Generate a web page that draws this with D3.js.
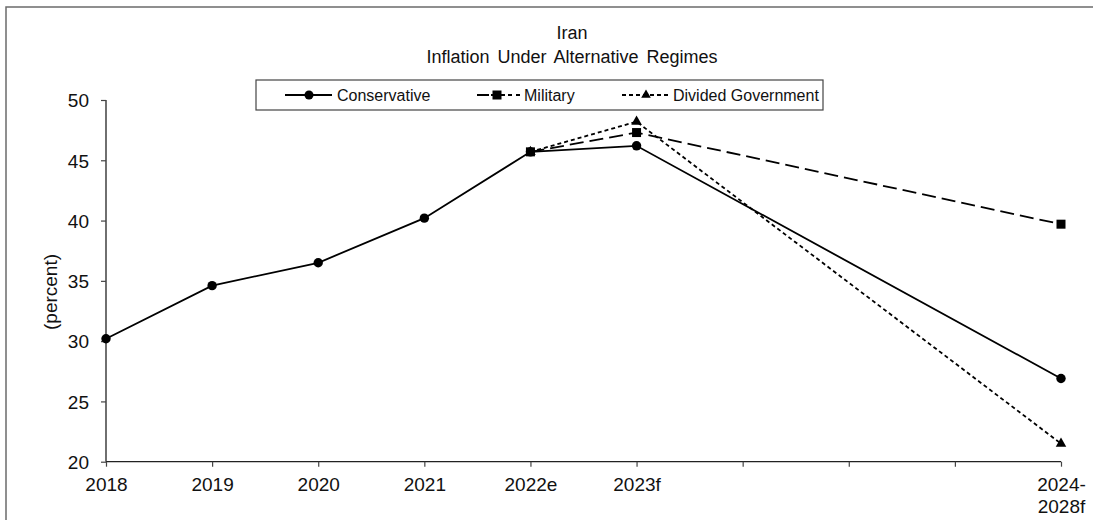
<!DOCTYPE html>
<html>
<head>
<meta charset="utf-8">
<script src="https://cdn.jsdelivr.net/npm/d3@7"></script>
<style>
  html, body { margin: 0; padding: 0; background: #fff; }
  svg { display: block; font-family: "Liberation Sans", Arial, sans-serif; }
</style>
</head>
<body>
<svg id="chart" width="1093" height="520"></svg>
<script>
// ---- data ----
const categories = ["2018", "2019", "2020", "2021", "2022e", "2023f", "c7", "c8", "c9", "2024-2028f"];
const tickLabels = ["2018", "2019", "2020", "2021", "2022e", "2023f", "", "", "", "2024-\n2028f"];
const conservativeCats = ["2018", "2019", "2020", "2021", "2022e", "2023f", "2024-2028f"];
const conservativeVals = [30.2, 34.6, 36.5, 40.2, 45.7, 46.2, 26.9];
const militaryCats = ["2022e", "2023f", "2024-2028f"];
const militaryVals = [45.7, 47.3, 39.7];
const dividedCats = ["2022e", "2023f", "2024-2028f"];
const dividedVals = [45.7, 48.2, 21.5];
const yTicks = [20, 25, 30, 35, 40, 45, 50];
const titleLines = ["Iran", "Inflation Under Alternative Regimes"];
const yLabel = "(percent)";
const seriesNames = ["Conservative", "Military", "Divided Government"];

// ---- layout ----
const svg = d3.select("#chart");
const x = d3.scalePoint().domain(categories).range([106, 1061]);
const y = d3.scaleLinear().domain([20, 50]).range([461.7, 100]);

// outer border
svg.append("rect").attr("x", 6).attr("y", 7).attr("width", 1200).attr("height", 600)
  .attr("fill", "none").attr("stroke", "#6b6b6b").attr("stroke-width", 1.5);

// title
svg.append("text").attr("x", 572).attr("y", 39).attr("text-anchor", "middle")
  .attr("font-size", 18).attr("fill", "#111").text(titleLines[0]);
svg.append("text").attr("x", 572).attr("y", 63).attr("text-anchor", "middle")
  .attr("font-size", 18).attr("word-spacing", 3).attr("fill", "#111").text(titleLines[1]);

// y axis
const yAxis = svg.append("g").attr("transform", "translate(106,0)")
  .call(d3.axisLeft(y).tickValues(yTicks).tickSize(5).tickPadding(12).tickFormat(d3.format("d")));
yAxis.select(".domain").attr("stroke", "#222").attr("stroke-width", 1.3).attr("d", "M0,100V461.7");
yAxis.selectAll(".tick line").attr("stroke", "#444").attr("stroke-width", 1.2);
yAxis.selectAll(".tick text").attr("font-size", 19).attr("fill", "#111")
  .attr("font-family", "Liberation Sans, Arial, sans-serif").attr("dy", "0.36em");

// x axis
const xAxis = svg.append("g").attr("transform", "translate(0,461.7)")
  .call(d3.axisBottom(x).tickSize(5).tickFormat(() => ""));
xAxis.select(".domain").attr("stroke", "#222").attr("stroke-width", 1.3).attr("d", "M106,0H1061");
xAxis.selectAll(".tick line").attr("stroke", "#444").attr("stroke-width", 1.2);
xAxis.selectAll(".tick").each(function(d, i) {
  const lines = tickLabels[i].split("\n");
  const t = d3.select(this).append("text").attr("text-anchor", "middle")
    .attr("font-size", 19).attr("fill", "#111")
    .attr("font-family", "Liberation Sans, Arial, sans-serif");
  lines.forEach((ln, k) => {
    t.append("tspan").attr("x", 0).attr("y", 29.5 + k * 22).text(ln);
  });
});

// y label
svg.append("text").attr("transform", "translate(57,292) rotate(-90)")
  .attr("text-anchor", "middle").attr("font-size", 19).attr("fill", "#111").text(yLabel);

// series
const line = d3.line().x(d => x(d.c)).y(d => y(d.v));
function pts(cats, vals) { return cats.map((c, i) => ({ c, v: vals[i] })); }
const cons = pts(conservativeCats, conservativeVals);
const mil = pts(militaryCats, militaryVals);
const div = pts(dividedCats, dividedVals);

svg.append("path").datum(cons).attr("d", line).attr("fill", "none")
  .attr("stroke", "#000").attr("stroke-width", 1.8);
svg.append("path").datum(mil).attr("d", line).attr("fill", "none")
  .attr("stroke", "#000").attr("stroke-width", 1.8).attr("stroke-dasharray", "14,6");
svg.append("path").datum(div).attr("d", line).attr("fill", "none")
  .attr("stroke", "#000").attr("stroke-width", 1.8).attr("stroke-dasharray", "4,3");

const tri = d3.symbol().type(d3.symbolTriangle).size(48);
function circles(data) {
  svg.append("g").selectAll("circle").data(data).join("circle")
    .attr("cx", d => x(d.c)).attr("cy", d => y(d.v)).attr("r", 4.7).attr("fill", "#000");
}
function squares(data) {
  svg.append("g").selectAll("rect").data(data).join("rect")
    .attr("x", d => x(d.c) - 4.5).attr("y", d => y(d.v) - 4.5)
    .attr("width", 9).attr("height", 9).attr("fill", "#000");
}
function triangles(data) {
  svg.append("g").selectAll("path").data(data).join("path")
    .attr("d", tri).attr("transform", d => `translate(${x(d.c)},${y(d.v)})`).attr("fill", "#000");
}
circles(cons);
triangles(div);
squares(mil);

// legend
const lg = svg.append("g");
lg.append("rect").attr("x", 256).attr("y", 80).attr("width", 567).attr("height", 30)
  .attr("fill", "#fff").attr("stroke", "#444").attr("stroke-width", 1.2);
const ly = 95;
// conservative
lg.append("line").attr("x1", 285).attr("x2", 332).attr("y1", ly).attr("y2", ly)
  .attr("stroke", "#000").attr("stroke-width", 1.8);
lg.append("circle").attr("cx", 309).attr("cy", ly).attr("r", 4.5).attr("fill", "#000");
lg.append("text").attr("x", 337).attr("y", ly + 5.5).attr("font-size", 16).attr("fill", "#111").text(seriesNames[0]);
// military
lg.append("line").attr("x1", 477).attr("x2", 520).attr("y1", ly).attr("y2", ly)
  .attr("stroke", "#000").attr("stroke-width", 1.8).attr("stroke-dasharray", "12,2,14,3,4,4,4");
lg.append("rect").attr("x", 497 - 4.5).attr("y", ly - 4.5).attr("width", 9).attr("height", 9).attr("fill", "#000");
lg.append("text").attr("x", 524).attr("y", ly + 5.5).attr("font-size", 16).attr("fill", "#111").text(seriesNames[1]);
// divided
lg.append("line").attr("x1", 622).attr("x2", 671).attr("y1", ly).attr("y2", ly)
  .attr("stroke", "#000").attr("stroke-width", 1.8).attr("stroke-dasharray", "4,3");
lg.append("path").attr("d", d3.symbol().type(d3.symbolTriangle).size(40))
  .attr("transform", `translate(646,${ly})`).attr("fill", "#000");
lg.append("text").attr("x", 673).attr("y", ly + 5.5).attr("font-size", 16).attr("fill", "#111").text(seriesNames[2]);
</script>
</body>
</html>
